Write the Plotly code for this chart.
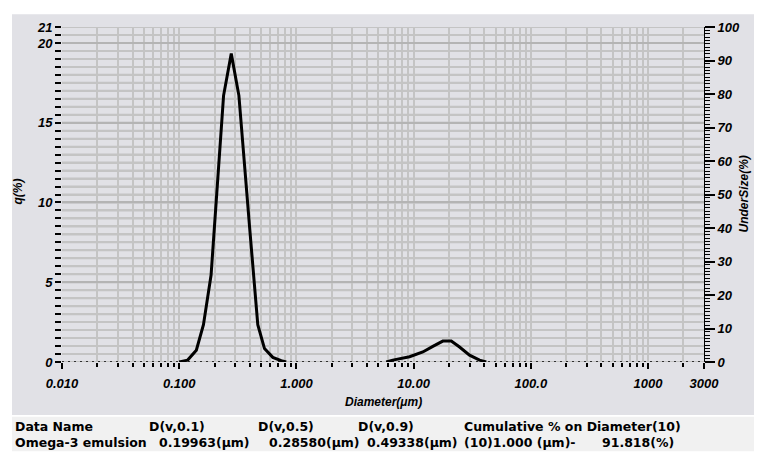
import plotly.graph_objects as go

# ---- data ----
peak1_d = [0.100, 0.118, 0.140, 0.161, 0.187, 0.239, 0.278, 0.323, 0.398, 0.468, 0.534, 0.629, 0.742, 0.818]
peak1_q = [0.0, 0.12, 0.74, 2.34, 5.45, 16.7, 19.33, 16.7, 8.5, 2.34, 0.84, 0.29, 0.08, 0.0]
peak2_d = [5.84, 6.64, 9.23, 11.98, 14.58, 17.75, 20.94, 24.64, 29.99, 36.5, 41.6]
peak2_q = [0.0, 0.12, 0.33, 0.63, 0.98, 1.31, 1.31, 0.94, 0.43, 0.12, 0.0]

x_tickvals = [0.01, 0.1, 1, 10, 100, 1000, 3000]
x_ticktext = ["0.010", "0.100", "1.000", "10.00", "100.0", "1000", "3000"]
y_tickvals = [0, 5, 10, 15, 20, 21]
y2_tickvals = [0, 10, 20, 30, 40, 50, 60, 70, 80, 90, 100]

header = ["Data Name", "D(v,0.1)", "D(v,0.5)", "D(v,0.9)", "Cumulative % on Diameter(10)"]
row = ["Omega-3 emulsion", "0.19963(\u03bcm)", "0.28580(\u03bcm)", "0.49338(\u03bcm)", "(10)1.000 (\u03bcm)-", "91.818(%)"]

# ---- layout geometry (page pixels; the page body adds an 8px offset) ----
OFF = 8
PAGE_W, PAGE_H = 762, 455
W, H = PAGE_W - OFF, PAGE_H - OFF
PLOT_L, PLOT_R, PLOT_T, PLOT_B = 62, 704, 20, 362  # page pixels of plot area
ML, MR, MT, MB = PLOT_L - OFF, PAGE_W - PLOT_R, PLOT_T - OFF, PAGE_H - PLOT_B
PW, PH = PLOT_R - PLOT_L, PLOT_B - PLOT_T


def px(x):
    return (x - PLOT_L) / PW


def py(y):
    return (PLOT_B - y) / PH


def bi(s):
    return "<b><i>" + s + "</i></b>"


x_minor = []
for dec in [0.01, 0.1, 1, 10, 100, 1000]:
    for k in range(2, 10):
        v = round(k * dec, 6)
        if v < 3000:
            x_minor.append(v)
y_minor = [i * 0.5 for i in range(0, 43)]
y2_minor = list(range(0, 101))

fig = go.Figure()
fig.add_trace(go.Scatter(
    x=peak1_d + [None] + peak2_d,
    y=peak1_q + [None] + peak2_q,
    mode="lines", line=dict(color="black", width=3),
    connectgaps=False, showlegend=False, hoverinfo="skip"))
fig.add_trace(go.Scatter(x=[], y=[], yaxis="y2", showlegend=False))

tickfont = dict(family="Liberation Sans, Arial", size=13, color="black")
gridc = "#c4c4c4"

fig.update_layout(
    width=W, height=H, autosize=False,
    margin=dict(l=ML, r=MR, t=MT, b=MB, pad=0),
    paper_bgcolor="white", plot_bgcolor="white",
    showlegend=False,
    xaxis=dict(
        type="log", range=[-2, 3.47712], tickmode="array",
        tickvals=x_tickvals, ticktext=[bi(t) for t in x_ticktext], tickfont=tickfont,
        ticks="outside", ticklen=6, tickwidth=2, tickcolor="black",
        showgrid=True, gridcolor=gridc, gridwidth=2,
        showline=False, zeroline=False, ticklabelstandoff=3,
        minor=dict(tickmode="array", tickvals=x_minor, ticks="outside", ticklen=4, tickwidth=1.5,
                   tickcolor="black", showgrid=True, gridcolor=gridc, gridwidth=2),
    ),
    yaxis=dict(
        range=[0, 21], tickmode="array", tickvals=y_tickvals,
        ticktext=[bi(str(v)) for v in y_tickvals], tickfont=tickfont,
        ticks="outside", ticklen=6, tickwidth=1.5, tickcolor="black",
        showgrid=True, gridcolor="#b4b4b4", gridwidth=2,
        showline=False, zeroline=False,
        minor=dict(tickmode="array", tickvals=y_minor, ticks="outside", ticklen=6, tickwidth=1.5,
                   tickcolor="black", showgrid=True, gridcolor=gridc, gridwidth=2),
    ),
    yaxis2=dict(
        overlaying="y", side="right", anchor="x", range=[0, 100],
        tickmode="array", tickvals=y2_tickvals, ticktext=[bi(str(v)) for v in y2_tickvals],
        tickfont=tickfont, ticks="outside", ticklen=10, tickwidth=1.5, tickcolor="black",
        showgrid=False, showline=True, linecolor="black", linewidth=1,
        zeroline=False,
        minor=dict(tickmode="array", tickvals=y2_minor, ticks="outside", ticklen=5, tickwidth=1,
                   tickcolor="black", showgrid=False),
    ),
)

shapes = [
    dict(type="rect", xref="paper", yref="paper", x0=px(12), x1=px(762), y0=py(416), y1=py(7),
         fillcolor="#e1e1e6", line=dict(width=0), layer="below"),
    dict(type="rect", xref="paper", yref="paper", x0=px(12), x1=px(762), y0=py(453), y1=py(418),
         fillcolor="#f1f1f1", line=dict(width=0), layer="below"),
]
# horizontal grid every 0.5 q
for v in y_minor:
    shapes.append(dict(type="line", xref="paper", yref="y", x0=0, x1=1, y0=v, y1=v,
                       line=dict(color="#b4b4b4" if v in (5, 10, 15, 20) else gridc, width=2),
                       layer="below"))
shapes.append(dict(type="line", xref="paper", yref="y", x0=0, x1=1, y0=0, y1=0,
                   line=dict(color="black", width=1.5, dash="2px,4px"), layer="above"))
fig.update_layout(shapes=shapes)

ann = []
titlefont = dict(family="Liberation Sans, Arial", size=12, color="black")
ann.append(dict(text=bi("Diameter(\u03bcm)"), x=px(383), y=py(403), xref="paper", yref="paper",
                showarrow=False, font=titlefont, xanchor="center", yanchor="middle"))
ann.append(dict(text=bi("q(%)"), x=px(18), y=py(188), xref="paper", yref="paper", textangle=-90,
                showarrow=False, font=titlefont, xanchor="center", yanchor="middle"))
ann.append(dict(text=bi("UnderSize(%)"), x=px(743), y=py(191), xref="paper", yref="paper", textangle=-90,
                showarrow=False, font=titlefont, xanchor="center", yanchor="middle"))

panelfont = dict(family="DejaVu Sans", size=12.5, color="black")
hx = [13, 147, 256, 356, 462]
rx = [13, 157, 267, 365, 462, 600]
for t, x in zip(header, hx):
    ann.append(dict(text="<b>" + t + "</b>", x=px(x), y=py(428), xref="paper", yref="paper",
                    showarrow=False, font=panelfont, xanchor="left", yanchor="middle"))
for t, x in zip(row, rx):
    ann.append(dict(text="<b>" + t + "</b>", x=px(x), y=py(444), xref="paper", yref="paper",
                    showarrow=False, font=panelfont, xanchor="left", yanchor="middle"))
fig.update_layout(annotations=ann)

fig.write_html("out.html")
